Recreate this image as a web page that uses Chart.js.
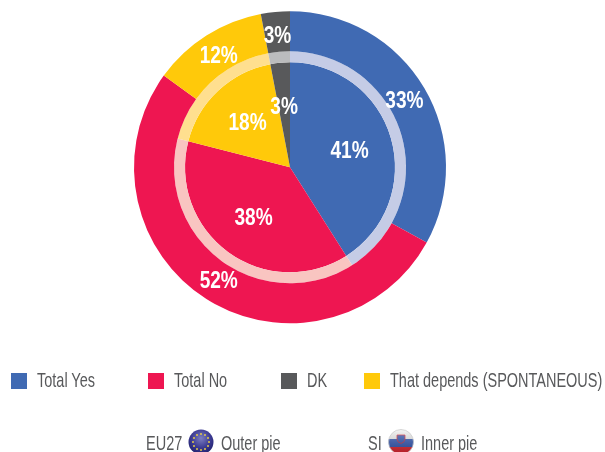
<!DOCTYPE html>
<html><head><meta charset="utf-8">
<script src="https://cdn.jsdelivr.net/npm/chart.js@4"></script>
<style>
html,body{margin:0;padding:0;background:#fff;overflow:hidden}
#wrap{position:relative;width:605px;height:452px;font-family:"Liberation Sans",sans-serif;color:#58595b}
canvas{position:absolute;left:0;top:0}
.sq{position:absolute;width:16px;height:16px;top:373px}
.t{position:absolute;font-size:21px;line-height:24px;white-space:nowrap;transform-origin:0 50%;transform:scaleX(.69)}
svg{position:absolute}
</style></head><body>
<div id="wrap"><canvas id="c" width="605" height="452"></canvas>
<span class="t" style="left:146px;top:431px">EU27</span>
<svg style="left:188px;top:429px" width="26" height="26" viewBox="0 0 26 26">
<defs><radialGradient id="eu" cx=".5" cy=".35" r=".7"><stop offset="0" stop-color="#7d7fc0"/><stop offset=".55" stop-color="#3b3a92"/><stop offset="1" stop-color="#1c1c66"/></radialGradient></defs>
<circle cx="13" cy="13" r="12.5" fill="url(#eu)"/>
<g fill="#e0c84a"><circle cx="13" cy="5" r="1"/><circle cx="17" cy="6" r="1"/><circle cx="20" cy="9" r="1"/><circle cx="21" cy="13" r="1"/><circle cx="20" cy="17" r="1"/><circle cx="17" cy="20" r="1"/><circle cx="13" cy="21" r="1"/><circle cx="9" cy="20" r="1"/><circle cx="6" cy="17" r="1"/><circle cx="5" cy="13" r="1"/><circle cx="6" cy="9" r="1"/><circle cx="9" cy="6" r="1"/></g></svg>
<span class="t" style="left:221px;top:431px">Outer pie</span>
<span class="t" style="left:368px;top:431px">SI</span>
<svg style="left:388px;top:429px" width="26" height="26" viewBox="0 0 26 26">
<defs><clipPath id="cp"><circle cx="13" cy="13" r="12.5"/></clipPath><linearGradient id="sh" x1="0" y1="0" x2="0" y2="1"><stop offset="0" stop-color="#fff" stop-opacity=".35"/><stop offset="1" stop-color="#000" stop-opacity=".2"/></linearGradient></defs>
<g clip-path="url(#cp)"><rect width="26" height="10" fill="#f2f2f2"/><rect y="10" width="26" height="8" fill="#2f55b5"/><rect y="18" width="26" height="8" fill="#e2232e"/><path d="M9 6h8v4q0 3-4 4.500q-4-1.500-4-4.500z" fill="#2f55b5" stroke="#e2232e" stroke-width=".8"/><rect width="26" height="26" fill="url(#sh)"/></g>
<circle cx="13" cy="13" r="12.500" fill="none" stroke="#c9c9c9" stroke-width=".7"/></svg>
<span class="t" style="left:421px;top:431px">Inner pie</span>
</div>
<script>
const categories = ["Total Yes", "Total No", "That depends (SPONTANEOUS)", "DK"];
const outerValues = [33, 52, 12, 3];   // EU27
const innerValues = [41, 38, 18, 3];   // SI
const colors = ["#406ab3", "#ee1651", "#ffc90a", "#58595b"];
const ringColors = ["#c5cce6", "#f9c5c1", "#ffdf8f", "#bbbcbe"];
const legendOrder = [0, 1, 3, 2];
const legendSquareX = [11, 148, 281, 364];
const legendTextX = [37, 174, 307, 390];

const wrap = document.getElementById('wrap');
legendOrder.forEach((idx, i) => {
  const s = document.createElement('div');
  s.className = 'sq'; s.style.left = legendSquareX[i] + 'px'; s.style.background = colors[idx];
  wrap.appendChild(s);
  const t = document.createElement('span');
  t.className = 't'; t.textContent = categories[idx];
  t.style.left = legendTextX[i] + 'px'; t.style.top = '368px';
  wrap.appendChild(t);
});

const labelPlugin = {
  id: 'pct',
  afterDatasetsDraw(chart) {
    const ctx = chart.ctx;
    const radii = {0: 133, 2: 62};
    ctx.fillStyle = '#fff';
    ctx.font = 'bold 23px "Liberation Sans",sans-serif';
    ctx.textAlign = 'center'; ctx.textBaseline = 'alphabetic';
    Object.keys(radii).forEach(di => {
      const meta = chart.getDatasetMeta(+di);
      meta.data.forEach((arc, i) => {
        const mid = (arc.startAngle + arc.endAngle) / 2;
        ctx.save();
        ctx.translate(arc.x + Math.cos(mid) * radii[di], arc.y + Math.sin(mid) * radii[di] + 8);
        ctx.scale(0.83, 1);
        ctx.fillText(chart.data.datasets[di].data[i] + '%', 0, 0);
        ctx.restore();
      });
    });
  }
};

new Chart(document.getElementById('c'), {
  type: 'doughnut',
  data: { labels: categories, datasets: [
    { label: 'EU27 Outer pie', data: outerValues, backgroundColor: colors, borderWidth: 0, weight: 40 },
    { label: 'Ring', data: innerValues, backgroundColor: ringColors, borderWidth: 0, weight: 11 },
    { label: 'SI Inner pie', data: innerValues, backgroundColor: colors, borderWidth: 0, weight: 105 }
  ]},
  options: {
    responsive: false, animation: false, cutout: 0, radius: 156,
    layout: { padding: { left: 0, right: 25, top: 0, bottom: 117.4 } },
    plugins: { legend: { display: false }, tooltip: { enabled: false } }
  },
  plugins: [labelPlugin]
});
</script></body></html>
